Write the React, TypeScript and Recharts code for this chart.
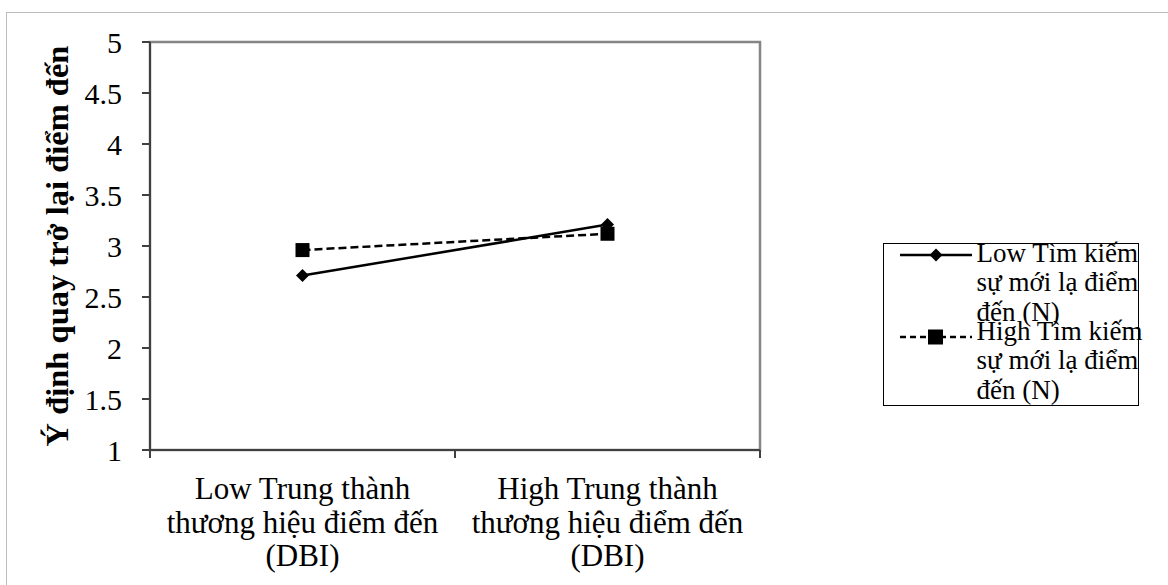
import { LineChart, Line, XAxis, YAxis, Legend, ReferenceArea } from 'recharts';

// x-axis categories, broken into the lines shown under the axis
const categories = [
  ['Low Trung thành', 'thương hiệu điểm đến', '(DBI)'],
  ['High Trung thành', 'thương hiệu điểm đến', '(DBI)'],
];
const seriesNames = [
  'Low Tìm kiếm sự mới lạ điểm đến (N)',
  'High Tìm kiếm sự mới lạ điểm đến (N)',
];
const lowNovelty = [2.71, 3.21];
const highNovelty = [2.96, 3.12];
const yTicks = [1, 1.5, 2, 2.5, 3, 3.5, 4, 4.5, 5];
const xTicks = [0, 0.5, 1, 1.5, 2];
const yTitle = 'Ý định quay trở lại điểm đến';

const FONT = '"Liberation Serif", "Times New Roman", serif';
const AXIS = '#404040';

// category i sits in the middle of band [i, i+1]
const data = categories.map((c, i) => ({
  pos: i + 0.5,
  low: lowNovelty[i],
  high: highNovelty[i],
}));

const Diamond = (props: any) => {
  const { cx, cy } = props;
  if (cx == null || cy == null) return null;
  const r = 6.5;
  return <polygon points={`${cx},${cy - r} ${cx + r},${cy} ${cx},${cy + r} ${cx - r},${cy}`} fill="#000" />;
};

const Square = (props: any) => {
  const { cx, cy } = props;
  if (cx == null || cy == null) return null;
  return <rect x={cx - 7} y={cy - 7} width={14} height={14} fill="#000" />;
};

const XTick = (props: any) => {
  const { x, y, payload } = props;
  const v = payload.value as number;
  if (Number.isInteger(v)) {
    return <line x1={x} y1={y} x2={x} y2={y + 8} stroke={AXIS} strokeWidth={2} />;
  }
  const lines = categories[Math.floor(v)];
  return (
    <text x={x} y={y} textAnchor="middle" fontSize={31} fontFamily={FONT} fill="#000">
      {lines.map((l, i) => (
        <tspan key={i} x={x} dy={i === 0 ? 49 : 33.5}>{l}</tspan>
      ))}
    </text>
  );
};

const YTick = (props: any) => {
  const { x, y, payload } = props;
  return (
    <text x={x - 18} y={y} dy="0.355em" textAnchor="end" fontSize={30} fontFamily={FONT} fill="#000">
      {payload.value}
    </text>
  );
};

const LegendBox = () => {
  const icons = [
    <svg width={72} height={20} key="a">
      <line x1={0} y1={10} x2={72} y2={10} stroke="#000" strokeWidth={2.5} />
      <polygon points="36,3.5 42.5,10 36,16.5 29.5,10" fill="#000" />
    </svg>,
    <svg width={72} height={20} key="b">
      <line x1={0} y1={10} x2={72} y2={10} stroke="#000" strokeWidth={2.5} strokeDasharray="6 4" />
      <rect x={28} y={2.5} width={15} height={15} fill="#000" />
    </svg>,
  ];
  const iconTop = [6, 10];
  return (
    <div style={{ position: 'relative', width: 256, height: 163, border: '1.5px solid #000', boxSizing: 'border-box', fontFamily: FONT }}>
      {seriesNames.map((name, i) => (
        <div key={name} style={{ position: 'absolute', left: 0, top: -5.5 + i * 78, width: 256 }}>
          <div style={{ position: 'absolute', left: 15.5, top: iconTop[i] }}>{icons[i]}</div>
          <div style={{ position: 'absolute', left: 92.5, top: 0, width: 172, fontSize: 27, lineHeight: '29.5px', color: '#000' }}>
            {name}
          </div>
        </div>
      ))}
    </div>
  );
};

export default function App() {
  return (
    <div style={{ position: 'fixed', left: 0, top: 0, width: 1168, height: 585, background: '#fff', overflow: 'hidden', fontFamily: FONT }}>
      <div style={{ position: 'absolute', left: 6, top: 12, width: 1300, height: 700, borderTop: '1px solid #bdbdbd', borderLeft: '1px solid #bdbdbd' }} />
      <LineChart width={1168} height={585} data={data} margin={{ top: 42, right: 408, left: 0, bottom: 0 }}>
        <ReferenceArea y1={1} y2={5} fill="none" stroke="#858585" strokeWidth={2.5} ifOverflow="visible" />
        <XAxis
          dataKey="pos"
          type="number"
          domain={[0, 2]}
          ticks={xTicks}
          interval={0}
          height={135}
          tick={<XTick />}
          tickLine={false}
          tickSize={0}
          tickMargin={0}
          stroke={AXIS}
          strokeWidth={2}
        />
        <YAxis
          domain={[1, 5]}
          ticks={yTicks}
          interval={0}
          width={150}
          tickSize={8}
          stroke={AXIS}
          strokeWidth={2}
          tick={<YTick />}
          label={({ viewBox }: any) => {
            const cy = viewBox ? viewBox.y + viewBox.height / 2 : 245;
            return (
              <text x={68} y={cy} transform={`rotate(-90, 68, ${cy})`} textAnchor="middle" fontSize={32.5} fontWeight="bold" fontFamily={FONT} fill="#000">
                {yTitle}
              </text>
            );
          }}
        />
        <Line dataKey="low" name={seriesNames[0]} stroke="#000" strokeWidth={2.5} dot={<Diamond />} isAnimationActive={false} />
        <Line dataKey="high" name={seriesNames[1]} stroke="#000" strokeWidth={2.5} strokeDasharray="8 4" dot={<Square />} isAnimationActive={false} />
        <Legend
          layout="horizontal"
          verticalAlign="middle"
          align="center"
          wrapperStyle={{ left: 883, top: 243, width: 256, height: 163 }}
          content={() => <LegendBox />}
        />
      </LineChart>
    </div>
  );
}
